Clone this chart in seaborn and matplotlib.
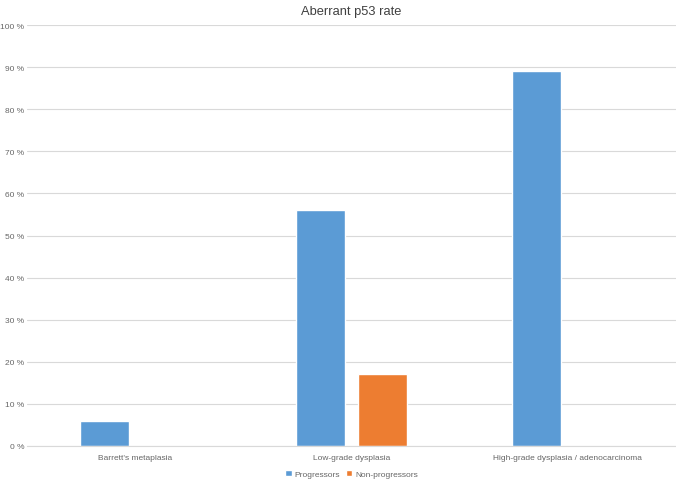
import matplotlib
matplotlib.use('Agg')
import matplotlib.pyplot as plt
import pandas as pd
import seaborn as sns
from matplotlib.ticker import FuncFormatter

# data
categories = ["Barrett's metaplasia", "Low-grade dysplasia",
              "High-grade dysplasia / adenocarcinoma"]
progressors = [6, 56, 89]
non_progressors = [0, 17, 0]
groups = ["Progressors", "Non-progressors"]

df = pd.DataFrame({
    'Stage': categories * 2,
    'Group': [groups[0]] * 3 + [groups[1]] * 3,
    'Rate': progressors + non_progressors,
})

sns.set_style('white')
plt.rcParams['font.family'] = ['Liberation Sans', 'DejaVu Sans']

fig = plt.figure(figsize=(6.76, 4.81), dpi=100)
ax = fig.add_axes([0.04, 0.0707, 0.96, 0.875])

sns.barplot(data=df, x='Stage', y='Rate', hue='Group', hue_order=groups,
            palette=['#5B9BD5', '#ED7D31'], width=0.573, gap=0.21,
            saturation=1, ax=ax, legend=True)

ax.set_ylim(0, 100)
ax.set_xlim(-0.5, 2.5)
ax.set_yticks(range(0, 101, 10))
ax.yaxis.set_major_formatter(FuncFormatter(lambda v, p: f'{int(v)} %'))
ax.grid(axis='y', color='#D9D9D9', linewidth=0.8)
ax.set_axisbelow(True)
for s in ['top', 'right', 'left']:
    ax.spines[s].set_visible(False)
ax.spines['bottom'].set_color('#D9D9D9')
ax.tick_params(axis='both', length=0, labelsize=6, colors='#666666')
ax.tick_params(axis='y', pad=2)
ax.tick_params(axis='x', pad=6)
ax.set_xlabel('')
ax.set_ylabel('')
ax.set_title('Aberrant p53 rate', fontsize=9.3, color='#404040', pad=8)

ax.legend(loc='center', bbox_to_anchor=(0.5, -0.0665), ncol=2,
          frameon=False, fontsize=6, handlelength=0.75, handleheight=0.75,
          handletextpad=0.3, columnspacing=0.8, labelcolor='#666666')

fig.savefig('out.png', dpi=100)
